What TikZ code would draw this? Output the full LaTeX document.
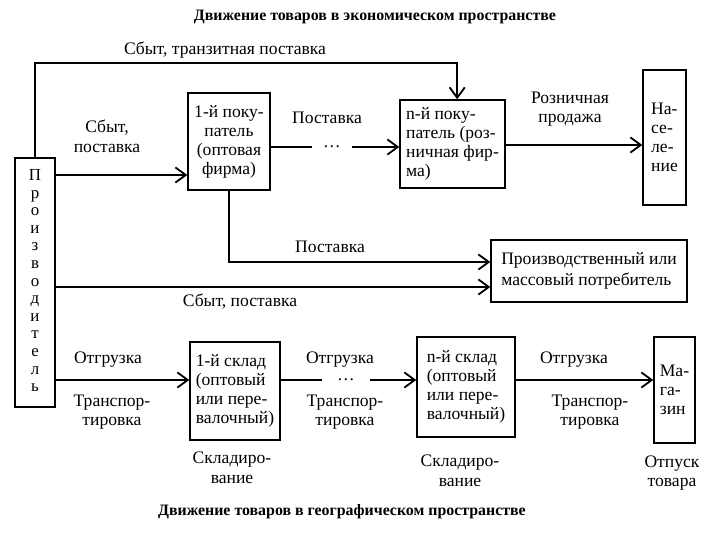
\documentclass[tikz,border=0pt]{standalone}
\usepackage{fontspec}
\setmainfont{Liberation Serif}
\usetikzlibrary{arrows.meta, positioning}

\tikzset{
  box/.style={draw, line width=1pt, inner sep=2pt, font=\fontsize{12.5}{13.5}\selectfont},
  arr/.style={line width=1.3pt, -{Straight Barb[length=2.6mm, width=3.8mm, line width=1.3pt]}},
  lnk/.style={line width=1.3pt},
  lbl/.style={align=center, inner sep=1pt, font=\fontsize{12.5}{14}\selectfont},
  ltr/.style={inner sep=0pt, text height=6pt, text depth=1pt, font=\fontsize{12}{13}\selectfont},
  dotsbox/.style={inner sep=0pt, minimum height=0pt, font=\fontsize{12.5}{14}\selectfont},
  ttl/.style={font=\bfseries\fontsize{11.3}{13}\selectfont}
}

\begin{document}
\begin{tikzpicture}
  \useasboundingbox (0,0) rectangle (18,13.5);

  % titles
  \node[ttl] (ttlecon) at (9.375,13.075) {Движение товаров в экономическом пространстве};
  \node[ttl] (ttlgeo) at (8.55,0.7) {Движение товаров в географическом пространстве};

  % producer with letters stacked
  \node[box, minimum width=1.0cm, minimum height=6.225cm] (prod) at (0.875,6.4375) {};
  \foreach \l [count=\i] in {П,р,о,и,з,в,о,д,и,т,е,л,ь} {
    \node[ltr] (p\i) at (0.875,{9.075-0.44*(\i-1)}) {\l};
  }

  % upper row: buyers
  \node[box, align=center, minimum width=2.05cm, minimum height=2.425cm] (buy1) at (5.725,9.9625)
    {1-й поку-\\патель\\(оптовая\\фирма)};
  \node[box, align=left, minimum width=2.625cm, minimum height=2.2cm] (buyn) at (11.3125,9.9)
    {n-й поку-\\патель (роз-\\ничная фир-\\ма)};
  \node[box, align=left, minimum width=1.075cm, minimum height=3.375cm] (pop) at (16.6125,10.0625)
    {На-\\се-\\ле-\\ние};
  \node[box, align=left, minimum width=4.9cm, minimum height=1.55cm,
        font=\fontsize{12.5}{15}\selectfont] (cons) at (14.725,6.725)
    {Производственный или\\массовый потребитель};
  \node[dotsbox, minimum width=1.0cm] (dots1) at (8.3,9.825) {\dots};

  \coordinate (tr) at (11.43,11.925);
  \draw[arr] (prod.north) |- (tr) -- (tr |- buyn.north);
  \draw[arr] (prod.east |- 0,9.125) -- (buy1.west |- 0,9.125);
  \draw[lnk] (buy1.east |- dots1) -- (dots1.west);
  \draw[arr] (dots1.east) -- (buyn.west |- dots1);
  \draw[arr] (buyn.east |- 0,9.875) -- (pop.west |- 0,9.875);
  \draw[arr] (buy1.south) |- (cons.west |- 0,6.95);
  \draw[arr] (prod.east |- 0,6.325) -- (cons.west |- 0,6.325);

  \node[lbl] (lbltr) at (5.625,12.25) {Сбыт, транзитная поставка};
  \node[lbl] (lblsb) at (2.675,10.1) {Сбыт,\\поставка};
  \node[lbl] (lblpo1) at (8.175,10.55) {Поставка};
  \node[lbl] (lblrt) at (14.25,10.775) {Розничная\\продажа};
  \node[lbl] (lblpo2) at (8.25,7.325) {Поставка};
  \node[lbl] (lblsb2) at (6.0,5.95) {Сбыт, поставка};

  % lower row: warehouses
  \node[box, align=left, minimum width=2.25cm, minimum height=2.45cm] (ware1) at (5.875,3.725)
    {1-й склад\\(оптовый\\или пере-\\валочный)};
  \node[box, align=left, minimum width=2.45cm, minimum height=2.5cm] (waren) at (11.65,3.825)
    {n-й склад\\(оптовый\\или пере-\\валочный)};
  \node[box, align=left, minimum width=1.025cm, minimum height=2.65cm] (shop) at (16.8625,3.75)
    {Ма-\\га-\\зин};
  \node[dotsbox, minimum width=1.2cm] (dots2) at (8.65,4.0) {\dots};

  \draw[arr] (prod.east |- 0,4.0) -- (ware1.west |- 0,4.0);
  \draw[lnk] (ware1.east |- dots2) -- (dots2.west);
  \draw[arr] (dots2.east) -- (waren.west |- dots2);
  \draw[arr] (waren.east |- 0,4.0) -- (shop.west |- 0,4.0);

  \foreach \x/\n in {2.7/a, 8.5/b, 14.35/c} {
    \node[lbl] (otg\n) at (\x,4.5) {Отгрузка};
  }
  \foreach \x/\n in {2.8/a, 8.625/b, 14.75/c} {
    \node[lbl] (trn\n) at (\x,3.2) {Транспор-\\тировка};
  }
  \node[lbl] (skl1) at (5.8,1.8) {Складиро-\\вание};
  \node[lbl] (skln) at (11.5,1.725) {Складиро-\\вание};
  \node[lbl] (otp) at (16.8,1.675) {Отпуск\\товара};
\end{tikzpicture}
\end{document}
